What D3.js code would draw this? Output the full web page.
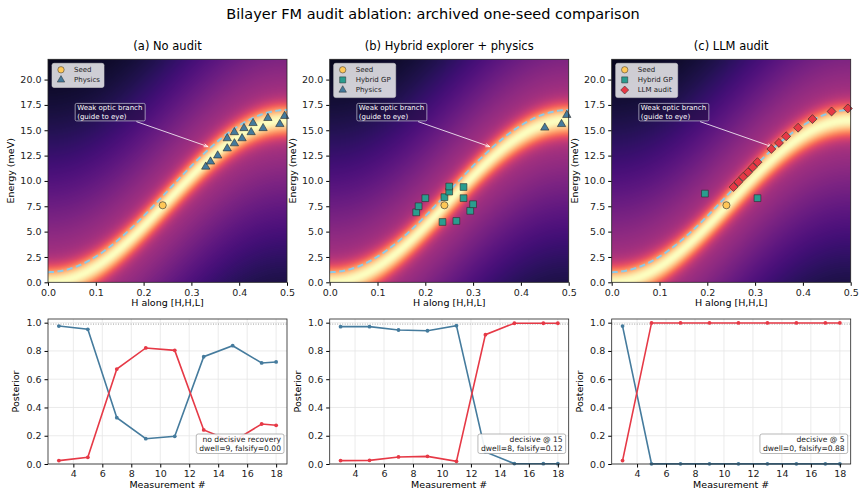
<!DOCTYPE html>
<html>
<head>
<meta charset="utf-8">
<script src="https://cdn.jsdelivr.net/npm/d3@7"></script>
<style>
  body { margin: 0; background: #fff; }
  text { font-family: "DejaVu Sans", sans-serif; }
</style>
</head>
<body>
<svg id="fig" width="864" height="498"></svg>
<script>
// ---- data ----
const panelTitles = ["(a) No audit", "(b) Hybrid explorer + physics", "(c) LLM audit"];
const seedPoint = {h: 0.24, e: 7.6};

const physicsA = [
  [0.330, 11.4], [0.340, 11.9], [0.355, 12.5], [0.375, 13.2], [0.375, 14.2],
  [0.390, 13.7], [0.390, 14.8], [0.406, 14.2], [0.410, 15.2], [0.425, 14.8],
  [0.429, 15.7], [0.450, 15.2], [0.460, 16.2], [0.485, 15.6], [0.495, 16.4]
];
const hybridB = [
  [0.181, 6.9], [0.186, 7.5], [0.200, 8.3], [0.236, 5.95], [0.240, 8.4], [0.250, 8.95],
  [0.250, 9.45], [0.265, 6.05], [0.280, 9.4], [0.280, 8.3], [0.294, 7.05], [0.300, 7.7]
];
const physicsB = [[0.450, 15.25], [0.485, 15.6], [0.496, 16.5]];
const hybridC = [[0.195, 8.75], [0.305, 8.3]];
const auditC = [
  [0.255, 9.4], [0.265, 9.9], [0.275, 10.4], [0.285, 10.85], [0.295, 11.35], [0.305, 11.85],
  [0.334, 13.15], [0.350, 13.75], [0.365, 14.4], [0.390, 15.25], [0.420, 16.1],
  [0.460, 16.85], [0.494, 17.15]
];

// dispersion model used for the map and the dashed guide
const bandTop = 16;       // meV at zone boundary
const opticOffset = 1;    // meV gap of the weak optic branch

const measurements = [3, 5, 7, 9, 11, 13, 15, 17, 18];
const nullA  = [0.976, 0.953, 0.328, 0.179, 0.196, 0.759, 0.837, 0.715, 0.722];
const opticA = [0.024, 0.047, 0.672, 0.821, 0.804, 0.241, 0.158, 0.283, 0.274];
const nullB  = [0.972, 0.972, 0.948, 0.943, 0.979, 0.085, 0.003, 0.002, 0.002];
const opticB = [0.024, 0.026, 0.050, 0.054, 0.019, 0.915, 0.996, 0.996, 0.996];
const nullC  = [0.976, 0.001, 0.001, 0.001, 0.001, 0.001, 0.001, 0.001, 0.001];
const opticC = [0.024, 0.998, 0.998, 0.998, 0.998, 0.998, 0.998, 0.998, 0.998];
const boxNotes = [
  ["no decisive recovery", "dwell=9, falsify=0.00"],
  ["decisive @ 15", "dwell=8, falsify=0.12"],
  ["decisive @ 5", "dwell=0, falsify=0.88"]
];
const energyTicks = [0, 2.5, 5, 7.5, 10, 12.5, 15, 17.5, 20];
const hTicks = [0, 0.1, 0.2, 0.3, 0.4, 0.5];
const measTicks = [4, 6, 8, 10, 12, 14, 16, 18];
const postTicks = [0, 0.2, 0.4, 0.6, 0.8, 1.0];

const colors = {seed: "#ffc857", hybrid: "#2a9d8f", physics: "#457b9d", audit: "#e63946",
                nul: "#457b9d", optic: "#e63946", guide: "#8ecae6"};

// ---- layout ----
const svg = d3.select("#fig");
const lefts = [48, 329.7, 611.7];
const pw = 239;
const topY = [59.3, 282.3];
const botY = [319, 464];

svg.append("text").attr("x", 433).attr("y", 19).attr("text-anchor", "middle")
  .attr("font-size", 14.5).text("Bilayer FM audit ablation: archived one-seed comparison");

const acoustic = h => bandTop * Math.sin(Math.PI * h) ** 2;
const optic = h => opticOffset + acoustic(h);

const markerShape = {seed: d3.symbolCircle, hybrid: d3.symbolSquare, physics: d3.symbolTriangle, audit: d3.symbolSquare};
const markerSize = {seed: 40, hybrid: 46, physics: 30, audit: 40};
const markerRot = {seed: 0, hybrid: 0, physics: 0, audit: 45};

function drawMap(i) {
  const g = svg.append("g").attr("transform", `translate(${lefts[i]},${topY[0]})`);
  const ph = topY[1] - topY[0];
  const x = d3.scaleLinear().domain([0, 0.5]).range([0, pw]);
  const y = d3.scaleLinear().domain([0, 22]).range([ph, 0]);

  // intensity map
  const W = Math.round(pw), H = Math.round(ph);
  const cv = document.createElement("canvas");
  cv.width = W; cv.height = H;
  const ctx = cv.getContext("2d");
  const img = ctx.createImageData(W, H);
  for (let py = 0; py < H; py++) {
    const e = y.invert(py + 0.5);
    for (let px = 0; px < W; px++) {
      const h = x.invert(px + 0.5);
      const d = Math.abs(e - acoustic(h));
      const t = 0.5 * Math.exp(-d * d / (2 * 1.05 * 1.05)) + 0.5 * Math.exp(-Math.pow(d / 13, 1.5));
      const c = d3.rgb(d3.interpolateMagma(Math.min(1, t)));
      const k = (py * W + px) * 4;
      img.data[k] = c.r; img.data[k + 1] = c.g; img.data[k + 2] = c.b; img.data[k + 3] = 255;
    }
  }
  ctx.putImageData(img, 0, 0);
  g.append("image").attr("href", cv.toDataURL()).attr("width", pw).attr("height", ph)
    .attr("preserveAspectRatio", "none");

  // dashed optic guide
  const hs = d3.range(0, 0.5001, 0.0025);
  g.append("path").datum(hs)
    .attr("d", d3.line().x(h => x(h)).y(h => y(optic(h))))
    .attr("fill", "none").attr("stroke", colors.guide).attr("stroke-width", 2)
    .attr("stroke-dasharray", "6,3.5");

  // annotation
  const ann = g.append("g");
  const ax0 = x(0.061), ay0 = y(17.65);
  ann.append("rect").attr("x", ax0 - 2).attr("y", ay0).attr("width", 70).attr("height", 17.5)
    .attr("rx", 1.5).attr("fill", "#1a1030").attr("fill-opacity", 0.45)
    .attr("stroke", "#c8c8d8").attr("stroke-width", 0.7);
  ["Weak optic branch", "(guide to eye)"].forEach((s, j) => {
    ann.append("text").attr("x", ax0).attr("y", ay0 + 7 + j * 8.3).attr("font-size", 7)
      .attr("fill", "#fff").text(s);
  });
  const sx = x(0.185), sy = y(15.85), tx = x(0.335), ty = y(13.38);
  ann.append("line").attr("x1", sx).attr("y1", sy).attr("x2", tx).attr("y2", ty)
    .attr("stroke", "#fff").attr("stroke-width", 0.8);
  const ang = Math.atan2(ty - sy, tx - sx);
  const hl = 4.5;
  ann.append("path")
    .attr("d", `M${tx - hl * Math.cos(ang - 0.35)},${ty - hl * Math.sin(ang - 0.35)}L${tx},${ty}L${tx - hl * Math.cos(ang + 0.35)},${ty - hl * Math.sin(ang + 0.35)}`)
    .attr("fill", "none").attr("stroke", "#fff").attr("stroke-width", 0.8);

  // points
  function plotPts(pts, kind) {
    g.selectAll(null).data(pts).enter().append("path")
      .attr("transform", d => `translate(${x(d[0])},${y(d[1])}) rotate(${markerRot[kind]})`)
      .attr("d", d3.symbol().type(markerShape[kind]).size(markerSize[kind])())
      .attr("fill", colors[kind]).attr("stroke", "#2b2b2b").attr("stroke-width", 0.6);
  }
  const legendItems = [["seed", "Seed"]];
  if (i === 0) { plotPts(physicsA, "physics"); legendItems.push(["physics", "Physics"]); }
  if (i === 1) { plotPts(hybridB, "hybrid"); plotPts(physicsB, "physics");
    legendItems.push(["hybrid", "Hybrid GP"], ["physics", "Physics"]); }
  if (i === 2) { plotPts(hybridC, "hybrid"); plotPts(auditC, "audit");
    legendItems.push(["hybrid", "Hybrid GP"], ["audit", "LLM audit"]); }
  plotPts([[seedPoint.h, seedPoint.e]], "seed");

  // legend
  const lg = g.append("g").attr("transform", "translate(4,4)");
  const lw = i === 0 ? 52 : 62;
  lg.append("rect").attr("width", lw).attr("height", 4 + legendItems.length * 10.1)
    .attr("rx", 2).attr("fill", "#fff").attr("fill-opacity", 0.8).attr("stroke", "#ccc").attr("stroke-width", 0.6);
  legendItems.forEach(([k, lab], j) => {
    const cy = 6.5 + j * 10.1;
    lg.append("path").attr("transform", `translate(${9},${cy}) rotate(${markerRot[k]})`)
      .attr("d", d3.symbol().type(markerShape[k]).size(markerSize[k] * 0.8)())
      .attr("fill", colors[k]).attr("stroke", "#2b2b2b").attr("stroke-width", 0.5);
    lg.append("text").attr("x", 22).attr("y", cy + 2.5).attr("font-size", 7).attr("fill", "#222").text(lab);
  });

  // axes
  g.append("g").attr("transform", `translate(0,${ph})`)
    .call(d3.axisBottom(x).tickValues(hTicks).tickFormat(d3.format(".1f")).tickSizeOuter(0).tickSize(3.5))
    .call(a => a.selectAll("text").attr("font-size", 9.5).attr("fill", "#222"));
  g.append("g")
    .call(d3.axisLeft(y).tickValues(energyTicks).tickFormat(d3.format(".1f")).tickSizeOuter(0).tickSize(3.5))
    .call(a => a.selectAll("text").attr("font-size", 9.5).attr("fill", "#222"));
  g.selectAll(".domain").remove();
  g.append("rect").attr("width", pw).attr("height", ph).attr("fill", "none").attr("stroke", "#222").attr("stroke-width", 0.8);

  g.append("text").attr("x", pw / 2).attr("y", -9).attr("text-anchor", "middle").attr("font-size", 11.5)
    .text(panelTitles[i]);
  g.append("text").attr("x", pw / 2).attr("y", ph + 24).attr("text-anchor", "middle").attr("font-size", 9.5)
    .text("H along [H,H,L]");
  g.append("text").attr("transform", `translate(-34,${ph / 2}) rotate(-90)`).attr("text-anchor", "middle")
    .attr("font-size", 9.5).text("Energy (meV)");
}

function drawPosterior(i, nul, opt) {
  const g = svg.append("g").attr("transform", `translate(${lefts[i]},${botY[0]})`);
  const ph = botY[1] - botY[0];
  const x = d3.scaleLinear().domain([2.25, 18.75]).range([0, pw]);
  const y = d3.scaleLinear().domain([0, 1.026]).range([ph, 0]);

  g.append("g").selectAll("line").data(measTicks).enter().append("line")
    .attr("x1", d => x(d)).attr("x2", d => x(d)).attr("y1", 0).attr("y2", ph)
    .attr("stroke", "#e6e6e6").attr("stroke-width", 0.8);
  g.append("g").selectAll("line").data(postTicks).enter().append("line")
    .attr("y1", d => y(d)).attr("y2", d => y(d)).attr("x1", 0).attr("x2", pw)
    .attr("stroke", "#e6e6e6").attr("stroke-width", 0.8);
  g.append("line").attr("x1", 0).attr("x2", pw).attr("y1", y(0.99)).attr("y2", y(0.99))
    .attr("stroke", "#888").attr("stroke-width", 0.8).attr("stroke-dasharray", "1,1.5");

  [[nul, colors.nul], [opt, colors.optic]].forEach(([vals, col]) => {
    const pts = measurements.map((m, j) => [m, vals[j]]);
    g.append("path").datum(pts).attr("d", d3.line().x(d => x(d[0])).y(d => y(d[1])))
      .attr("fill", "none").attr("stroke", col).attr("stroke-width", 1.6);
    g.selectAll(null).data(pts).enter().append("circle")
      .attr("cx", d => x(d[0])).attr("cy", d => y(d[1])).attr("r", 1.9).attr("fill", col);
  });

  // note box
  const note = boxNotes[i];
  const nb = g.append("g");
  const tmp = note.map((s, j) => nb.append("text").attr("x", pw - 6).attr("y", ph - 22.5 + j * 9.2)
    .attr("text-anchor", "end").attr("font-size", 7.6).attr("fill", "#222").text(s));
  const wmax = d3.max(tmp, t => t.node().getComputedTextLength());
  nb.insert("rect", "text").attr("x", pw - 6 - wmax - 3).attr("y", ph - 30).attr("width", wmax + 6)
    .attr("height", 19.5).attr("rx", 2).attr("fill", "#fff").attr("fill-opacity", 0.9)
    .attr("stroke", "#999").attr("stroke-width", 0.7);

  g.append("g").attr("transform", `translate(0,${ph})`)
    .call(d3.axisBottom(x).tickValues(measTicks).tickSizeOuter(0).tickSize(3.5))
    .call(a => a.selectAll("text").attr("font-size", 9.5).attr("fill", "#222"));
  g.append("g")
    .call(d3.axisLeft(y).tickValues(postTicks).tickFormat(d3.format(".1f")).tickSizeOuter(0).tickSize(3.5))
    .call(a => a.selectAll("text").attr("font-size", 9.5).attr("fill", "#222"));
  g.selectAll(".domain").remove();
  g.append("rect").attr("width", pw).attr("height", ph).attr("fill", "none").attr("stroke", "#222").attr("stroke-width", 0.8);

  g.append("text").attr("x", pw / 2).attr("y", ph + 24).attr("text-anchor", "middle").attr("font-size", 9.5)
    .text("Measurement #");
  g.append("text").attr("transform", `translate(-29,${ph / 2}) rotate(-90)`).attr("text-anchor", "middle")
    .attr("font-size", 9.5).text("Posterior");
}

[0, 1, 2].forEach(drawMap);
drawPosterior(0, nullA, opticA);
drawPosterior(1, nullB, opticB);
drawPosterior(2, nullC, opticC);
</script>
</body>
</html>
